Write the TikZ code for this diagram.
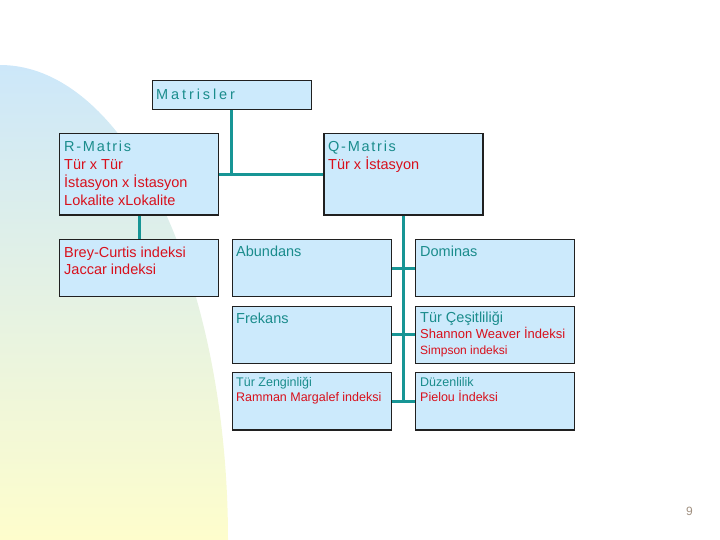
\documentclass[tikz,border=0pt]{standalone}
\usepackage{fontspec}
\setmainfont{Liberation Sans}
\definecolor{boxfill}{HTML}{CCEAFC}
\definecolor{boxline}{HTML}{202020}
\definecolor{tealline}{HTML}{179595}
\definecolor{tealtxt}{HTML}{1A8C8C}
\definecolor{redtxt}{HTML}{D8101C}
\definecolor{bgblue}{HTML}{CCE7FA}
\definecolor{bgmid}{HTML}{E8F4E2}
\definecolor{bgyellow}{HTML}{FEFDCC}
\definecolor{pgnum}{HTML}{A09080}
\tikzset{
  box/.style={draw=boxline, line width=1.2bp, fill=boxfill, minimum width=159bp, inner sep=0pt, anchor=north west},
  conn/.style={draw=tealline, line width=3bp},
  lbl/.style={anchor=base west, inner sep=0pt},
  big/.style={font=\fontsize{14.5bp}{18bp}\selectfont},
  mid/.style={font=\fontsize{13bp}{16bp}\selectfont},
  sml/.style={font=\fontsize{12.5bp}{15bp}\selectfont},
  tl/.style={text=tealtxt},
  rd/.style={text=redtxt}
}
\begin{document}
\begin{tikzpicture}[x=1bp,y=-1bp]
\useasboundingbox (0,0) rectangle (720,540);
% background shape
\begin{scope}
  \clip (0,540) ellipse [x radius=228, y radius=475];
  \shade[top color=bgblue, middle color=bgmid, bottom color=bgyellow] (0,60) rectangle (232,540);
\end{scope}
% boxes
\node (m)  [box, minimum height=29.3bp] at (151.7,80) {};
\node (r)  [box, minimum height=81bp] at (59,133.3) {};
\node (q)  [box, minimum height=81bp] at (323.3,133.3) {};
\node (b)  [box, minimum height=56.7bp] at (59,239.3) {};
\node (a)  [box, minimum height=56.7bp] at (231.7,239.3) {};
\node (d)  [box, minimum height=56.7bp] at (415,239.3) {};
\node (f)  [box, minimum height=57bp] at (231.7,305.7) {};
\node (tc) [box, minimum height=57bp] at (415,305.7) {};
\node (tz) [box, minimum height=57.6bp] at (231.7,371.7) {};
\node (dz) [box, minimum height=57.6bp] at (415,371.7) {};
% connectors
\coordinate (mj) at (m.south |- r.east);
\coordinate (qe) at (q.south |- tz.east);
\draw[conn] (m.south) -- (mj);
\draw[conn] (r.east) -- (q.west);
\draw[conn] (r.south) -- (b.north);
\draw[conn] (q.south) -- (qe);
\draw[conn] (a.east) -- (d.west);
\draw[conn] (f.east) -- (tc.west);
\draw[conn] (tz.east) -- (dz.west);
% texts
\node (tm) [lbl, big, tl] at (156,99.3) {\addfontfeatures{LetterSpace=20}Matrisler};
\node (tr1) [lbl, big, tl] at (64,151.7) {\addfontfeatures{LetterSpace=12}R-Matris};
\node (tr2) [lbl, big, rd] at (64,169.7) {Tür x Tür};
\node (tr3) [lbl, big, rd] at (64,187.7) {İstasyon x İstasyon};
\node (tr4) [lbl, big, rd] at (64,205.7) {Lokalite xLokalite};
\node (tq1) [lbl, big, tl] at (328,151.7) {\addfontfeatures{LetterSpace=12}Q-Matris};
\node (tq2) [lbl, big, rd] at (328,170) {Tür x İstasyon};
\node (tb1) [lbl, big, rd] at (64,257.3) {Brey-Curtis indeksi};
\node (tb2) [lbl, big, rd] at (64,275) {Jaccar indeksi};
\node (ta) [lbl, big, tl] at (236,256.7) {Abundans};
\node (td) [lbl, big, tl] at (420,256.7) {Dominas};
\node (tf) [lbl, big, tl] at (236,323.3) {Frekans};
\node (tc1) [lbl, big, tl] at (420,322.7) {Tür Çeşitliliği};
\node (tc2) [lbl, mid, rd] at (420,338.5) {Shannon Weaver İndeksi};
\node (tc3) [lbl, font=\fontsize{12bp}{14bp}\selectfont, rd] at (420,354) {Simpson indeksi};
\node (tz1) [lbl, sml, tl] at (236,386.7) {Tür Zenginliği};
\node (tz2) [lbl, sml, rd] at (236,401.7) {Ramman Margalef indeksi};
\node (td1) [lbl, sml, tl] at (420,386.7) {Düzenlilik};
\node (td2) [lbl, sml, rd] at (420,401.7) {Pielou İndeksi};
\node (pn) [lbl, font=\fontsize{12bp}{14bp}\selectfont, text=pgnum] at (686,515) {9};
\end{tikzpicture}
\end{document}
